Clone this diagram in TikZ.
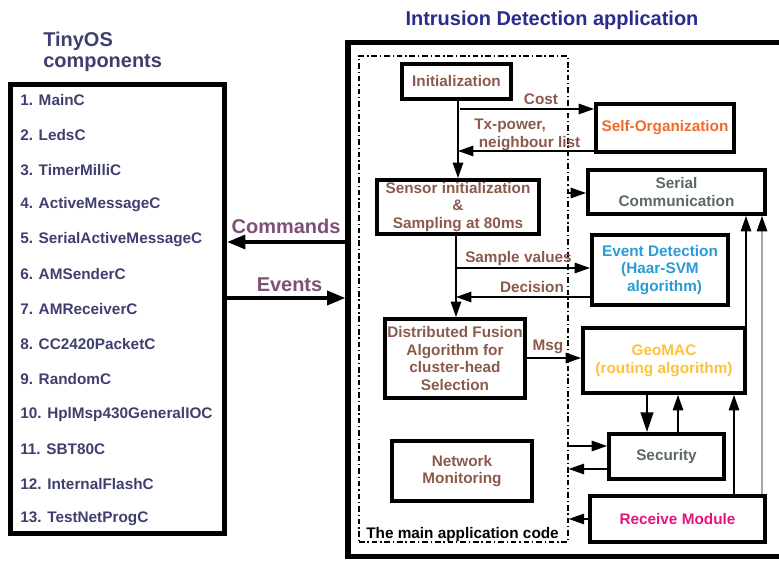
\documentclass[tikz,border=0pt]{standalone}
\usepackage{fontspec}
\setmainfont{Liberation Sans}
\usetikzlibrary{arrows.meta}
\definecolor{osblue}{HTML}{3F3F6F}
\definecolor{titleblue}{HTML}{2B2B8C}
\definecolor{cmdpurple}{HTML}{7D5077}
\definecolor{browntext}{HTML}{8C5A4B}
\definecolor{orgorange}{HTML}{F26A2A}
\definecolor{graytext}{HTML}{5B6A5E}
\definecolor{eventblue}{HTML}{2A9BD6}
\definecolor{geoyellow}{HTML}{FCC23C}
\definecolor{recvpink}{HTML}{E6137D}

\begin{document}
\begin{tikzpicture}[x=0.025cm,y=-0.025cm,
  font=\bfseries\fontsize{10.9}{12.5}\selectfont,
  sz/.style 2 args={minimum width=#1*0.025cm,minimum height=#2*0.025cm},
  box/.style={draw,line width=2.8pt,inner sep=0pt,align=center},
  big/.style={font=\bfseries\fontsize{14.2}{15}\selectfont},
  arr/.style={-{Triangle[length=11pt,width=7.5pt,color=black]},line width=0.9pt},
  bigarr/.style={-{Triangle[length=13pt,width=10pt]},line width=2.4pt}]
\useasboundingbox (0,0) rectangle (779,564);

% TinyOS side
\node[big,text=osblue,anchor=west,align=left,inner sep=0pt] (ostitle) at (43,52) {TinyOS\\components};
\node[draw,line width=3.8pt,sz={214}{449}] (comps) at (117.5,309) {};
\foreach \name [count=\i] in {MainC,LedsC,TimerMilliC,ActiveMessageC,SerialActiveMessageC,AMSenderC,AMReceiverC,CC2420PacketC,RandomC,HplMsp430GeneralIOC,SBT80C,InternalFlashC,TestNetProgC}
  \node[anchor=west,text=osblue,inner sep=0pt] (item\i) at (20,{100+(\i-1)*34.9}) {\i. \name};

% application side
\node[big,text=titleblue] (apptitle) at (552,20) {Intrusion Detection application};
\node[draw,line width=3.8pt,sz={452}{514}] (app) at (574,299.5) {};
\node[draw,line width=1pt,dash pattern=on 4pt off 2pt on 1pt off 2pt,sz={209}{486}] (main) at (463.5,299) {};
\node[anchor=west,inner sep=0pt] (mainlabel) at (366,535) {The main application code};

\node[box,sz={109}{35},text=browntext] (init) at (456.5,81.5) {Initialization};
\node[box,sz={138}{48},text=orgorange] (selforg) at (665,128) {Self-Organization};
\node[box,sz={177}{44},text=graytext] (serial) at (676.5,192) {Serial\\Communication};
\node[box,sz={162}{54},text=browntext] (sensor) at (458,207) {Sensor initialization\\\&\\Sampling at 80ms};
\node[box,sz={136}{70},text=eventblue] (event) at (660,270) {Event Detection\\(Haar-SVM\\\hspace{0.6em}algorithm)};
\node[box,sz={140}{79},text=browntext] (fusion) at (455,358.5) {Distributed Fusion\\Algorithm for\\cluster-head\\Selection};
\node[box,sz={162}{65},text=geoyellow] (geomac) at (664,360.5) {GeoMAC\\(routing algorithm)};
\node[box,sz={115}{45},text=graytext] (security) at (666.5,456.5) {Security};
\node[box,sz={140}{60},text=browntext] (netmon) at (462,471) {Network\\Monitoring};
\node[box,sz={175}{46},text=recvpink] (receive) at (677.5,519) {Receive Module};

% commands and events
\draw[bigarr] (app.west |- 0,242) -- (comps.east |- 0,242);
\draw[bigarr] (comps.east |- 0,298) -- (app.west |- 0,298);
\node[big,text=cmdpurple] (cmdlabel) at (286,226) {Commands};
\node[big,text=cmdpurple] (evlabel) at (289.5,285) {Events};

% inside the application
\draw[arr] (init.south -| 458,0) -- (sensor.north -| 458,0);
\draw[arr] (460,109) -- (selforg.west |- 0,109);
\draw[arr] (selforg.west |- 0,151) -- (458,151);
\node[text=browntext] (costlabel) at (541,99) {Cost};
\node[text=browntext,anchor=west,align=left,inner sep=0pt] (txlabel) at (474,135) {Tx-power,\\\hspace{0.3em}neighbour list};
\draw[arr] (main.east |- 0,193) -- (serial.west |- 0,193);

\draw[arr] (sensor.south -| 456,0) -- (fusion.north -| 456,0);
\draw[arr] (456,268) -- (event.west |- 0,268);
\draw[arr] (event.west |- 0,297) -- (456,297);
\node[text=browntext] (samplelabel) at (518.5,259) {Sample values};
\node[text=browntext] (decisionlabel) at (532,287) {Decision};

\draw[arr] (fusion.east |- 0,358) -- (geomac.west |- 0,358);
\node[text=browntext] (msglabel) at (548,347) {Msg};

\draw[-{Triangle[length=14pt,width=9pt]},line width=1.6pt] (geomac.south -| 647,0) -- (security.north -| 647,0);
\draw[arr] (security.north -| 678,0) -- (geomac.south -| 678,0);
\draw[arr] (main.east |- 0,446) -- (security.west |- 0,446);
\draw[arr] (security.west |- 0,469) -- (main.east |- 0,469);
\draw[arr] (receive.west) -- (main.east |- receive.west);
\draw[arr] (receive.north -| 734,0) -- (geomac.south -| 734,0);
\draw[arr,draw=gray!70] (receive.north -| 762,0) -- (serial.south -| 762,0);
\draw[arr] (geomac.north -| 746,0) -- (serial.south -| 746,0);
\end{tikzpicture}
\end{document}
